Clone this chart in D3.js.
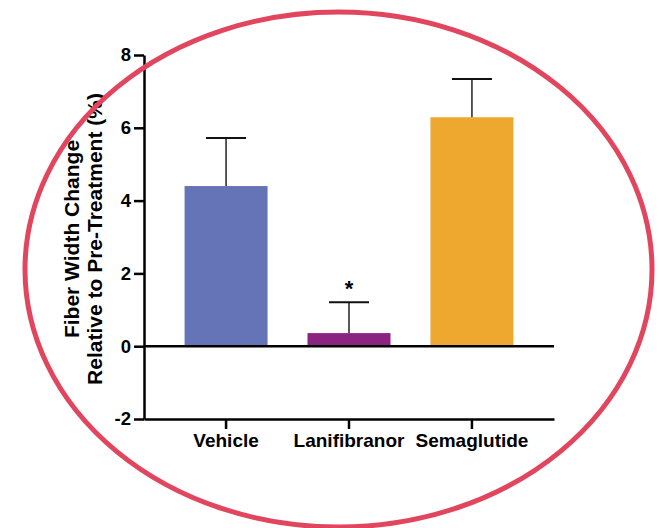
<!DOCTYPE html>
<html>
<head>
<meta charset="utf-8">
<script src="https://cdn.jsdelivr.net/npm/d3@7"></script>
<style>
  body { margin: 0; background: #fff; }
  text { font-family: "Liberation Sans", Arial, sans-serif; font-weight: bold; }
</style>
</head>
<body>
<div id="chart"></div>
<script>
// data
var groups = ["Vehicle", "Lanifibranor", "Semaglutide"];
var means = [4.40, 0.36, 6.29];
var errTops = [5.72, 1.21, 7.34];
var colors = ["#6574b6", "#8b2381", "#eea72f"];
var signif = ["", "*", ""];
var yTicks = [-2, 0, 2, 4, 6, 8];

var W = 659, H = 528;
var margin = {top: 55, left: 144, right: 105, bottom: 109};
var width = W - margin.left - margin.right,
    height = H - margin.top - margin.bottom;

var svg = d3.select("#chart").append("svg")
    .attr("width", W)
    .attr("height", H);

var g = svg.append("g")
    .attr("transform", "translate(" + margin.left + "," + margin.top + ")");

var x = d3.scaleBand()
    .domain(groups)
    .range([0, width])
    .paddingInner(0.325)
    .paddingOuter(0.33);

var y = d3.scaleLinear()
    .domain([-2, 8])
    .range([height, 0]);

// bars
g.selectAll(".bar")
    .data(groups)
    .enter().append("rect")
    .attr("class", "bar")
    .attr("x", function (d) { return x(d); })
    .attr("width", x.bandwidth())
    .attr("y", function (d, i) { return y(Math.max(0, means[i])); })
    .attr("height", function (d, i) { return Math.abs(y(means[i]) - y(0)); })
    .attr("fill", function (d, i) { return colors[i]; });

// error bars
var capHalf = 20;
g.selectAll(".err")
    .data(groups)
    .enter().append("line")
    .attr("x1", function (d) { return x(d) + x.bandwidth() / 2; })
    .attr("x2", function (d) { return x(d) + x.bandwidth() / 2; })
    .attr("y1", function (d, i) { return y(means[i]); })
    .attr("y2", function (d, i) { return y(errTops[i]); })
    .attr("stroke", "#222")
    .attr("stroke-width", 1.5);

g.selectAll(".cap")
    .data(groups)
    .enter().append("line")
    .attr("x1", function (d) { return x(d) + x.bandwidth() / 2 - capHalf; })
    .attr("x2", function (d) { return x(d) + x.bandwidth() / 2 + capHalf; })
    .attr("y1", function (d, i) { return y(errTops[i]); })
    .attr("y2", function (d, i) { return y(errTops[i]); })
    .attr("stroke", "#111")
    .attr("stroke-width", 2);

// significance star
g.selectAll(".star")
    .data(groups)
    .enter().append("text")
    .attr("x", function (d) { return x(d) + x.bandwidth() / 2; })
    .attr("y", function (d, i) { return y(errTops[i]) - 6; })
    .attr("text-anchor", "middle")
    .style("font-size", "22px")
    .text(function (d, i) { return signif[i]; });

// zero line
g.append("line")
    .attr("x1", 0)
    .attr("x2", width)
    .attr("y1", y(0))
    .attr("y2", y(0))
    .attr("stroke", "#000")
    .attr("stroke-width", 2.5);

// x axis
var xAxis = g.append("g")
    .attr("transform", "translate(0," + height + ")")
    .call(d3.axisBottom(x).tickSize(10).tickSizeOuter(0).tickPadding(5));
xAxis.select(".domain").attr("stroke", "#000").attr("stroke-width", 2.5);
xAxis.selectAll(".tick line").attr("stroke", "#000").attr("stroke-width", 2.5);
xAxis.selectAll("text").style("font-size", "19px").attr("fill", "#000");

// y axis
var yAxis = g.append("g")
    .call(d3.axisLeft(y).tickValues(yTicks).tickFormat(function (d) { return String(d); })
        .tickSize(10).tickSizeOuter(0).tickPadding(3));
yAxis.select(".domain").attr("stroke", "#000").attr("stroke-width", 2.5);
yAxis.selectAll(".tick line").attr("stroke", "#000").attr("stroke-width", 2.5);
yAxis.selectAll("text").style("font-size", "18.5px").attr("fill", "#000");

// y axis title
var title = g.append("text")
    .attr("transform", "translate(-73," + (height / 2 + 2) + ") rotate(-90)")
    .attr("text-anchor", "middle")
    .attr("dominant-baseline", "central")
    .style("font-size", "21px");
title.append("tspan").attr("x", 0).attr("dy", 0).text("Fiber Width Change");
title.append("tspan").attr("x", 0).attr("dy", 23).text("Relative to Pre-Treatment (%)");

// red ellipse overlay
svg.append("ellipse")
    .attr("cx", 338.5)
    .attr("cy", 269.5)
    .attr("rx", 313.5)
    .attr("ry", 257.5)
    .attr("fill", "none")
    .attr("stroke", "#e2465e")
    .attr("stroke-width", 5);
</script>
</body>
</html>
